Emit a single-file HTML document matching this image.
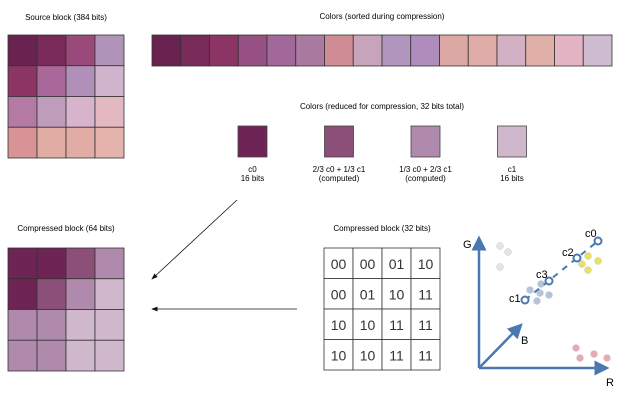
<!DOCTYPE html>
<html><head><meta charset="utf-8"><style>
html,body{margin:0;padding:0;background:#fff;}
svg{display:block;font-family:"Liberation Sans",sans-serif;}
</style></head><body>
<svg width="627" height="401" viewBox="0 0 627 401">
<defs><marker id="ah" markerWidth="8" markerHeight="6" refX="7" refY="3" orient="auto"><path d="M0,0 L8,3 L0,6 z" fill="#111"/></marker>
<marker id="bh" markerWidth="6" markerHeight="6" refX="5" refY="3" orient="auto"><path d="M0,0 L6,3 L0,6 z" fill="#4a78b0"/></marker></defs>
<g id="g-src"></g>
<g id="g-strip"></g>
<g id="g-sw"></g>
<g id="g-cmp"></g>
<g id="g-tab"></g>
<text x="66" y="20" font-size="8" text-anchor="middle">Source block (384 bits)</text>
<text x="382" y="19" font-size="8" text-anchor="middle">Colors (sorted during compression)</text>
<text x="382" y="109" font-size="8" text-anchor="middle">Colors (reduced for compression, 32 bits total)</text>
<text x="66" y="231" font-size="8" text-anchor="middle">Compressed block (64 bits)</text>
<text x="382" y="231" font-size="8" text-anchor="middle">Compressed block (32 bits)</text>
<line x1="237" y1="200" x2="152" y2="279" stroke="#111" stroke-width="0.8" marker-end="url(#ah)"/>
<line x1="297" y1="309" x2="152" y2="309" stroke="#111" stroke-width="0.8" marker-end="url(#ah)"/>
<g>
<line x1="479" y1="368" x2="479" y2="238" stroke="#4a78b0" stroke-width="2.5" marker-end="url(#bh)"/>
<line x1="479" y1="368" x2="607" y2="368" stroke="#4a78b0" stroke-width="2.5" marker-end="url(#bh)"/>
<line x1="479" y1="368" x2="521" y2="325" stroke="#4a78b0" stroke-width="2.5" marker-end="url(#bh)"/>
<text x="463" y="248" font-size="11">G</text><text x="606" y="386" font-size="11">R</text><text x="521" y="344" font-size="11">B</text>
<g id="g-dots"></g>
<line x1="525" y1="300" x2="598" y2="241" stroke="#4a78b0" stroke-width="2" stroke-dasharray="6,6"/>
<g id="g-ends"></g>
<text x="509" y="302" font-size="11">c1</text><text x="536" y="278" font-size="11">c3</text><text x="562" y="256" font-size="11">c2</text><text x="585" y="237" font-size="11">c0</text>
</g>
</svg>
<script>
const NS="http://www.w3.org/2000/svg";
const srcColors=[["#6a2350","#7a2a58","#9a4a7a","#b094b8"],["#8c3464","#a8689a","#b090b8","#d0b4cc"],["#b47aa4","#c09cbc","#d8b4cc","#e4b8c0"],["#d89494","#e0aca4","#e0aca4","#e4b4ac"]];
const stripColors=["#6a2350","#782a58","#8c3464","#965082","#a2689a","#aa7aa0","#d08c94","#c8a4bc","#b096bc","#ae8cbc","#dca8a4","#e0aca8","#d4b0c4","#e0b0a8","#e4b4c4","#cebcd0"];
const palette=["#6e2454","#8c5078","#b08aac","#d0b8cc"];
const paletteLabels=[["c0","16 bits"],["2/3 c0 + 1/3 c1","(computed)"],["1/3 c0 + 2/3 c1","(computed)"],["c1","16 bits"]];
const indices=[["00","00","01","10"],["00","01","10","11"],["10","10","11","11"],["10","10","11","11"]];
const dotsGray=[[500,246],[508,252],[500,267]];
const dotsYellow=[[588,256],[582,264],[598,261],[588,270]];
const dotsBlue=[[530,290],[541,284],[540,293],[549,295],[537,301]];
const dotsPink=[[576,348],[580,358],[594,354],[607,358]];
const endpoints=[[598,241],[577,258],[549,281],[525,300]];
function el(t,a,p){const e=document.createElementNS(NS,t);for(const k in a)e.setAttribute(k,a[k]);p.appendChild(e);return e;}
const src=document.getElementById('g-src');
srcColors.forEach((r,i)=>r.forEach((c,j)=>{const e=el('rect',{x:8+j*29,y:35+i*30.75,width:29,height:30.75,fill:c,stroke:'#333','stroke-width':0.8},src);

}));
const st=document.getElementById('g-strip');
stripColors.forEach((c,i)=>{const e=el('rect',{x:152+i*28.75,y:35,width:28.75,height:31,fill:c,stroke:'#333','stroke-width':0.8},st);

});
const sw=document.getElementById('g-sw');
palette.forEach((c,i)=>{const x=238+i*86.5;const e=el('rect',{x:x,y:126,width:29,height:31,fill:c,stroke:'#444','stroke-width':0.8},sw);


paletteLabels[i].forEach((t,k)=>{const tx=el('text',{x:x+14.5,y:172+k*9,'font-size':8,'text-anchor':'middle'},sw);tx.textContent=t;

});});
const cmp=document.getElementById('g-cmp'),tab=document.getElementById('g-tab');
indices.forEach((r,i)=>r.forEach((v,j)=>{const idx=parseInt(v,2);
const e=el('rect',{x:8+j*29,y:248+i*30.75,width:29,height:30.75,fill:palette[idx],stroke:'#333','stroke-width':0.8},cmp);


const c=el('rect',{x:324+j*29,y:248+i*30.5,width:29,height:30.5,fill:'#fff',stroke:'#333','stroke-width':0.8},tab);


const t=el('text',{x:338.5+j*29,y:269+i*30.5,'font-size':14,'text-anchor':'middle',fill:'#333'},tab);t.textContent=v;

}));
const dg=document.getElementById('g-dots');
[[dotsGray,'#e4e4e0'],[dotsYellow,'#e8e060'],[dotsBlue,'#b4c4dc'],[dotsPink,'#e8a8b4']].forEach(([arr,col])=>arr.forEach(p=>{const d=el('circle',{cx:p[0],cy:p[1],r:3.5,fill:col,stroke:'#ccc','stroke-width':0.5},dg);

}));
const ge=document.getElementById('g-ends');
endpoints.forEach(p=>{const d=el('circle',{cx:p[0],cy:p[1],r:3.5,fill:'#fff',stroke:'#4a78b0','stroke-width':2},ge);

});
</script>
</body></html>
